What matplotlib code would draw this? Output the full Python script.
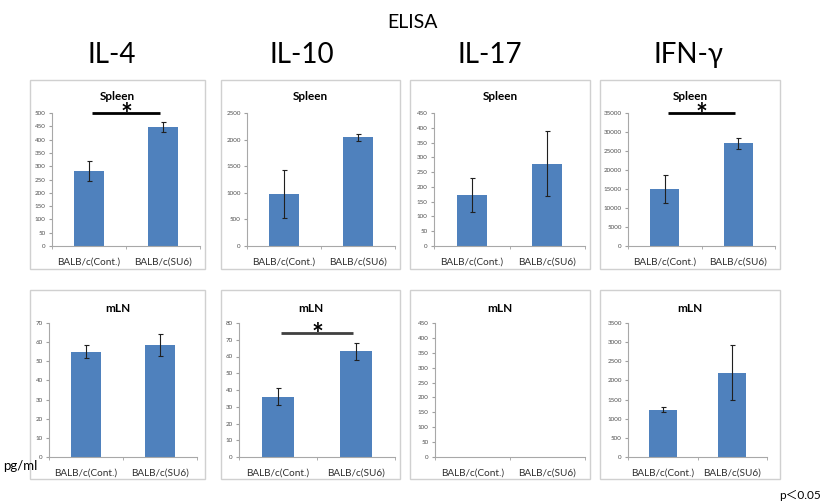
import matplotlib
matplotlib.use("Agg")
import matplotlib.pyplot as plt
from matplotlib.patches import Rectangle

plt.rcParams['font.family'] = ['Lato', 'DejaVu Sans']

W, H = 823, 503

categories = ["BALB/c(Cont.)", "BALB/c(SU6)"]
cytokines = ["IL-4", "IL-10", "IL-17", "IFN-γ"]

# Spleen row
spleen_means = [[282, 448], [980, 2040], [173, 278], [15000, 27000]]
spleen_errs = [[38, 18], [450, 65], [57, 110], [3700, 1500]]
spleen_ymax = [500, 2500, 450, 35000]
spleen_step = [50, 500, 50, 5000]

# mLN row (IL-17 has no data)
mln_means = [[55, 58.5], [36, 63], None, [1230, 2200]]
mln_errs = [[3.5, 5.5], [5, 5], None, [65, 720]]
mln_ymax = [70, 80, 450, 3500]
mln_step = [10, 10, 50, 500]

spleen_sig = [True, False, False, True]
mln_sig = [False, True, False, False]

fig = plt.figure(figsize=(W / 100, H / 100), dpi=100)

def px_rect(x0, x1, ybot, ytop):
    return [x0 / W, 1 - ybot / H, (x1 - x0) / W, (ybot - ytop) / H]

box_x = [(30, 205), (221, 400), (410, 590), (600, 780)]
box_y = [(80, 269), (290, 479)]
axes_x = [[(52, 200), (247, 395), (434, 585), (628, 775)],
          [(49, 197), (239, 395), (435, 585), (628, 767)]]
axes_y = [(246, 113), (457, 323)]
row_titles = ["Spleen", "mLN"]
bar_color = "#4f81bd"

for r in range(2):
    for c in range(4):
        bx0, bx1 = box_x[c]
        by0, by1 = box_y[r]
        fig.patches.append(Rectangle((bx0 / W, 1 - by1 / H), (bx1 - bx0) / W,
                                     (by1 - by0) / H, transform=fig.transFigure,
                                     fill=False, edgecolor="#d0d0d0", linewidth=1.0))
        fig.text((bx0 + bx1) / 2 / W, 1 - (97 if r == 0 else 308) / H, row_titles[r],
                 ha="center", va="center", fontsize=8.5, fontweight="bold", color="black")

        ax0, ax1 = axes_x[r][c]
        yb, yt = axes_y[r]
        ax = fig.add_axes(px_rect(ax0, ax1, yb, yt))
        if r == 0:
            means, errs, ymax, step, sig = spleen_means[c], spleen_errs[c], spleen_ymax[c], spleen_step[c], spleen_sig[c]
        else:
            means, errs, ymax, step, sig = mln_means[c], mln_errs[c], mln_ymax[c], mln_step[c], mln_sig[c]
        xs = list(range(len(categories)))
        if means is not None:
            ax.bar(xs, means, width=0.4, color=bar_color, zorder=2)
            ax.errorbar(xs, means, yerr=errs, fmt="none", ecolor="#202020",
                        elinewidth=0.8, capsize=1.8, capthick=0.8, zorder=3)
        ax.set_xlim(-0.5, 1.5)
        ax.set_ylim(0, ymax)
        ticks = list(range(0, ymax + 1, step))
        ax.set_yticks(ticks)
        ax.set_yticklabels([str(t) for t in ticks])
        ax.set_xticks(xs)
        ax.set_xticklabels(categories)
        ax.set_xticks([-0.5, 0.5, 1.5], minor=True)
        ax.tick_params(axis="x", which="major", length=0, labelsize=7.2, colors="#303030", pad=8)
        ax.tick_params(axis="x", which="minor", length=2.5, color="#a0a0a0", direction="out")
        ax.tick_params(axis="y", length=2.5, color="#a0a0a0", labelsize=4.5,
                       labelcolor="#505050", pad=2)
        for s in ["top", "right"]:
            ax.spines[s].set_visible(False)
        for s in ["left", "bottom"]:
            ax.spines[s].set_color("#a8a8a8")
            ax.spines[s].set_linewidth(0.8)
        ax.patch.set_alpha(0)

        if sig:
            line_y = ymax if r == 0 else ymax * 0.925
            lc = "black" if r == 0 else "#404040"
            ax.plot([0.04, 0.96], [line_y, line_y], color=lc, linewidth=2.0,
                    clip_on=False, solid_capstyle="butt", zorder=4)
            ax.text(0.5, line_y - ymax * 0.015, "*", ha="center", va="center",
                    fontsize=20, fontweight="bold", color="black", clip_on=False)

# Column titles and overall title
col_cx = [112, 302, 490, 688]
for c, name in enumerate(cytokines):
    fig.text(col_cx[c] / W, 1 - 55 / H, name, ha="center", va="center",
             fontsize=20, color="black")
fig.text(412 / W, 1 - 22 / H, "ELISA", ha="center", va="center", fontsize=14, color="black")

fig.text(3 / W, 1 - 466 / H, "pg/ml", ha="left", va="center", fontsize=9.5, color="black")
fig.text(821 / W, 1 - 495 / H, "p＜0.05", ha="right", va="center", fontsize=8.5,
         color="black", family=["Lato", "Noto Sans CJK JP", "DejaVu Sans"])

fig.savefig("out.png", dpi=100)
